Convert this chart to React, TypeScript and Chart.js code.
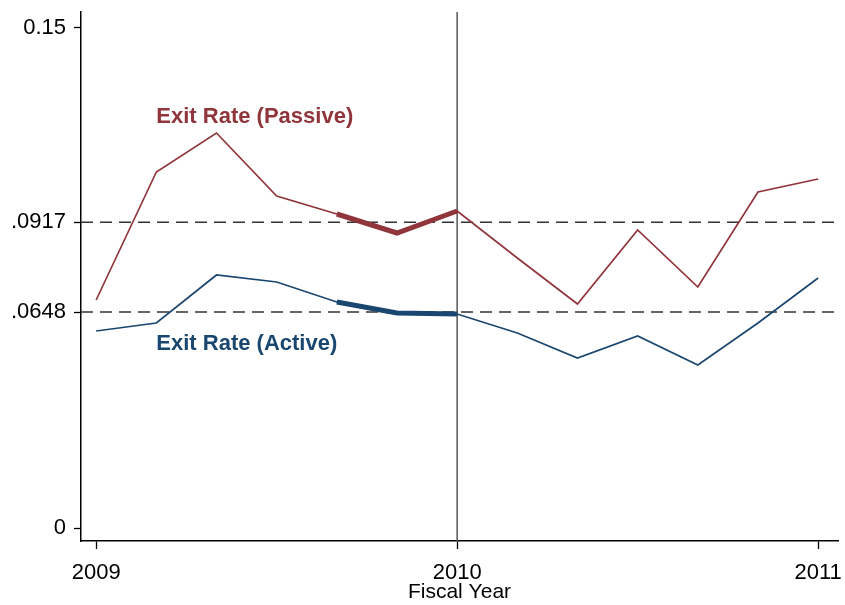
import React, { useEffect, useRef } from "react";
import { Chart, registerables } from "chart.js";

Chart.register(...registerables);

const xValues = [2009, 2009.1667, 2009.3333, 2009.5, 2009.6667, 2009.8333, 2010, 2010.1667, 2010.3333, 2010.5, 2010.6667, 2010.8333, 2011];
const passive = [0.0684, 0.1068, 0.1185, 0.0996, 0.0942, 0.0885, 0.0951, 0.081, 0.0672, 0.0894, 0.0723, 0.1008, 0.1047];
const active = [0.0591, 0.0615, 0.0759, 0.0738, 0.0678, 0.0645, 0.0642, 0.0585, 0.051, 0.0576, 0.0489, 0.0615, 0.075];
const highlightStart = 4;
const highlightEnd = 6;
const xTicks = [2009, 2010, 2011];
const yTicks = [0, 0.0648, 0.0917, 0.15];
const yTickLabels = ["0", ".0648", ".0917", "0.15"];
const refLines = [0.0917, 0.0648];
const eventYear = 2010;
const labelPassive = { text: "Exit Rate (Passive)", x: 2009.1667, y: 0.1233 };
const labelActive = { text: "Exit Rate (Active)", x: 2009.1667, y: 0.0552 };

const X_MIN = 2008.958;
const X_MAX = 2011.055;
const Y_MIN = -0.0039;
const Y_MAX = 0.1548;

const MAROON = "#90353B";
const NAVY = "#1A476F";
const FONT = "'Liberation Sans', Arial, sans-serif";

const pts = (ys: number[], from = 0, to = ys.length - 1) =>
  ys.slice(from, to + 1).map((y, i) => ({ x: xValues[from + i], y }));

const textPlugin = {
  id: "textLabels",
  afterDatasetsDraw(chart: any) {
    const { ctx, scales } = chart;
    ctx.save();
    ctx.font = `bold 22px ${FONT}`;
    ctx.textAlign = "left";
    ctx.textBaseline = "middle";
    ctx.fillStyle = MAROON;
    ctx.fillText(labelPassive.text, scales.x.getPixelForValue(labelPassive.x), scales.y.getPixelForValue(labelPassive.y));
    ctx.fillStyle = NAVY;
    ctx.fillText(labelActive.text, scales.x.getPixelForValue(labelActive.x), scales.y.getPixelForValue(labelActive.y));
    ctx.restore();
  },
};

export default function App() {
  const ref = useRef<HTMLCanvasElement>(null);
  useEffect(() => {
    if (!ref.current) return;
    const datasets: any[] = [
      ...refLines.map((v) => ({
        data: [{ x: X_MIN, y: v }, { x: X_MAX, y: v }],
        borderColor: "#333",
        borderWidth: 1.5,
        borderDash: [12, 7],
        pointRadius: 0,
        order: 10,
      })),
      {
        data: [{ x: eventYear, y: Y_MIN }, { x: eventYear, y: Y_MAX }],
        borderColor: "#555",
        borderWidth: 1.5,
        pointRadius: 0,
        order: 9,
      },
      { data: pts(passive), borderColor: MAROON, borderWidth: 1.7, pointRadius: 0, order: 3 },
      { data: pts(active), borderColor: NAVY, borderWidth: 1.7, pointRadius: 0, order: 3 },
      { data: pts(passive, highlightStart, highlightEnd), borderColor: MAROON, borderWidth: 5, pointRadius: 0, order: 1 },
      { data: pts(active, highlightStart, highlightEnd), borderColor: NAVY, borderWidth: 5, pointRadius: 0, order: 1 },
    ];
    const chart = new Chart(ref.current, {
      type: "line",
      data: { datasets },
      plugins: [textPlugin],
      options: {
        animation: false,
        responsive: false,
        layout: { padding: { left: 0, right: 7, top: 12, bottom: 0 } },
        plugins: { legend: { display: false }, tooltip: { enabled: false } },
        elements: { line: { tension: 0, borderJoinStyle: "miter" } },
        scales: {
          x: {
            type: "linear",
            min: X_MIN,
            max: X_MAX,
            afterBuildTicks: (s: any) => {
              s.ticks = xTicks.map((v) => ({ value: v }));
            },
            afterFit: (s: any) => {
              s.height = 64;
              s.paddingLeft = 0;
              s.paddingRight = 0;
            },
            grid: { display: true, drawOnChartArea: false, drawTicks: true, tickLength: 8, tickColor: "#000", tickWidth: 1.3 },
            border: { display: true, color: "#000", width: 1.5 },
            ticks: { color: "#000", font: { family: FONT, size: 22 }, padding: 11, maxRotation: 0, autoSkip: false, callback: (v: any) => String(v) },
            title: { display: true, text: "Fiscal Year", color: "#000", font: { family: FONT, size: 21 }, padding: { top: 0, bottom: 0 } },
          },
          y: {
            type: "linear",
            min: Y_MIN,
            max: Y_MAX,
            afterBuildTicks: (s: any) => {
              s.ticks = yTicks.map((v) => ({ value: v }));
            },
            afterFit: (s: any) => {
              s.width = 81;
              s.paddingTop = 0;
              s.paddingBottom = 0;
            },
            grid: { display: true, drawOnChartArea: false, drawTicks: true, tickLength: 7, tickColor: "#000", tickWidth: 1.3 },
            border: { display: true, color: "#000", width: 1.5 },
            ticks: {
              color: "#000",
              font: { family: FONT, size: 22 },
              padding: 8,
              autoSkip: false,
              callback: (v: any) => {
                const i = yTicks.indexOf(v);
                return i >= 0 ? yTickLabels[i] : "";
              },
            },
          },
        },
      },
    });
    return () => chart.destroy();
  }, []);
  return (
    <div style={{ position: "fixed", left: 0, top: 0, width: 845, height: 605, background: "#fff" }}>
      <canvas ref={ref} width={845} height={605} style={{ display: "block" }} />
    </div>
  );
}
